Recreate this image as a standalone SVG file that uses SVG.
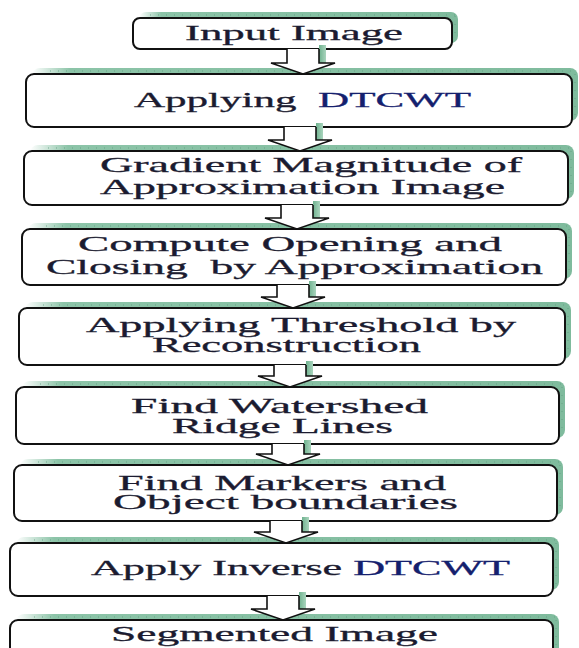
<svg xmlns="http://www.w3.org/2000/svg" width="579" height="648" viewBox="0 0 579 648">
  <defs>
    <linearGradient id="shade" x1="0" y1="0" x2="1" y2="0">
      <stop offset="0" stop-color="#8cc4a8" stop-opacity="0"/>
      <stop offset="0.07" stop-color="#8cc4a8" stop-opacity="1"/>
      <stop offset="1" stop-color="#7fbb9d"/>
    </linearGradient>
    <linearGradient id="arrowShade" x1="0" y1="0" x2="1" y2="0">
      <stop offset="0" stop-color="#6fb28f"/>
      <stop offset="1" stop-color="#a9d4bd"/>
    </linearGradient>
  </defs>
  <style>
    .shadow { fill: url(#shade); }
    .ticks { fill: none; stroke: #5f9f80; stroke-width: 1; stroke-dasharray: 1 7; opacity: 0.8; }
    .box { fill: #ffffff; stroke: #111111; stroke-width: 2; }
    .label { font-family: "Liberation Serif", "Times New Roman", serif; font-size: 22px; fill: #1b1b30; stroke: #1b1b30; stroke-width: 0.3; white-space: pre; }
    .acr { fill: #14206e; stroke: #14206e; }
    .arrow { fill: #ffffff; stroke: #111111; stroke-width: 1.6; stroke-linejoin: miter; }
    .arrow-shadow { fill: url(#arrowShade); }
  </style>

  <rect width="579" height="648" fill="#ffffff"/>

  <!-- Process steps -->
  <g id="input-image">
    <rect class="shadow" x="139" y="12" width="319" height="31" rx="7"/>
    <path class="ticks" d="M150 15 H456 M455 16 V40"/>
    <rect class="box" x="133" y="18" width="319" height="31" rx="7"/>
    <text class="label" x="185" y="40" textLength="218" lengthAdjust="spacingAndGlyphs">Input Image</text>
  </g>

  <g id="apply-dtcwt">
    <rect class="shadow" x="32" y="68" width="546" height="53" rx="8"/>
    <path class="ticks" d="M50 71 H574 M575 74 V118"/>
    <rect class="box" x="26" y="74" width="546" height="53" rx="8"/>
    <text class="label" x="134" y="107" textLength="337" lengthAdjust="spacingAndGlyphs" xml:space="preserve">Applying  <tspan class="acr">DTCWT</tspan></text>
  </g>

  <g id="gradient-magnitude">
    <rect class="shadow" x="30" y="145" width="544" height="54" rx="8"/>
    <path class="ticks" d="M48 148 H570 M571 151 V196"/>
    <rect class="box" x="24" y="151" width="544" height="54" rx="8"/>
    <text class="label" x="100" y="172" textLength="422" lengthAdjust="spacingAndGlyphs">Gradient Magnitude of</text>
    <text class="label" x="100" y="194" textLength="405" lengthAdjust="spacingAndGlyphs">Approximation Image</text>
  </g>

  <g id="opening-closing">
    <rect class="shadow" x="28" y="223" width="544" height="56" rx="8"/>
    <path class="ticks" d="M46 226 H568 M569 229 V276"/>
    <rect class="box" x="22" y="229" width="544" height="56" rx="8"/>
    <text class="label" x="78" y="251" textLength="424" lengthAdjust="spacingAndGlyphs">Compute Opening and</text>
    <text class="label" x="46" y="274" textLength="497" lengthAdjust="spacingAndGlyphs" xml:space="preserve">Closing  by Approximation</text>
  </g>

  <g id="threshold-reconstruction">
    <rect class="shadow" x="25" y="302" width="546" height="57" rx="8"/>
    <path class="ticks" d="M43 305 H567 M568 308 V356"/>
    <rect class="box" x="19" y="308" width="546" height="57" rx="8"/>
    <text class="label" x="86" y="332" textLength="430" lengthAdjust="spacingAndGlyphs">Applying Threshold by</text>
    <text class="label" x="152" y="352" textLength="269" lengthAdjust="spacingAndGlyphs">Reconstruction</text>
  </g>

  <g id="watershed-ridges">
    <rect class="shadow" x="22" y="381" width="543" height="57" rx="8"/>
    <path class="ticks" d="M40 384 H561 M562 387 V435"/>
    <rect class="box" x="16" y="387" width="543" height="57" rx="8"/>
    <text class="label" x="131" y="413" textLength="297" lengthAdjust="spacingAndGlyphs">Find Watershed</text>
    <text class="label" x="172" y="433" textLength="221" lengthAdjust="spacingAndGlyphs">Ridge Lines</text>
  </g>

  <g id="markers-boundaries">
    <rect class="shadow" x="20" y="459" width="543" height="56" rx="8"/>
    <path class="ticks" d="M38 462 H559 M560 465 V512"/>
    <rect class="box" x="14" y="465" width="543" height="56" rx="8"/>
    <text class="label" x="118" y="490" textLength="328" lengthAdjust="spacingAndGlyphs">Find Markers and</text>
    <text class="label" x="113" y="509" textLength="345" lengthAdjust="spacingAndGlyphs">Object boundaries</text>
  </g>

  <g id="inverse-dtcwt">
    <rect class="shadow" x="16" y="537" width="543" height="53" rx="8"/>
    <path class="ticks" d="M34 540 H555 M556 543 V587"/>
    <rect class="box" x="10" y="543" width="543" height="53" rx="8"/>
    <text class="label" x="91" y="575" textLength="419" lengthAdjust="spacingAndGlyphs">Apply Inverse <tspan class="acr">DTCWT</tspan></text>
  </g>

  <g id="segmented-image">
    <rect class="shadow" x="16" y="614" width="543" height="50" rx="8"/>
    <path class="ticks" d="M34 617 H555 M556 620 V648"/>
    <rect class="box" x="10" y="620" width="543" height="50" rx="8"/>
    <text class="label" x="111" y="641" textLength="327" lengthAdjust="spacingAndGlyphs">Segmented Image</text>
  </g>

  <!-- Block arrows between steps -->
  <g id="connectors">
    <rect class="arrow-shadow" x="319" y="45" width="7" height="18"/>
    <path class="arrow" d="M287 49 V63 H271 L303 74 L335 63 H319 V49"/>

    <rect class="arrow-shadow" x="316" y="123" width="7" height="17"/>
    <path class="arrow" d="M284 127 V140 H268 L300 151 L332 140 H316 V127"/>

    <rect class="arrow-shadow" x="313" y="201" width="7" height="17"/>
    <path class="arrow" d="M281 205 V218 H265 L297 229 L329 218 H313 V205"/>

    <rect class="arrow-shadow" x="309" y="281" width="7" height="16"/>
    <path class="arrow" d="M277 285 V297 H261 L293 308 L325 297 H309 V285"/>

    <rect class="arrow-shadow" x="306" y="361" width="7" height="16"/>
    <path class="arrow" d="M274 365 V376 H258 L290 387 L322 376 H306 V365"/>

    <rect class="arrow-shadow" x="304" y="440" width="7" height="14"/>
    <path class="arrow" d="M272 444 V454 H256 L288 465 L320 454 H304 V444"/>

    <rect class="arrow-shadow" x="302" y="517" width="7" height="15"/>
    <path class="arrow" d="M270 521 V532 H254 L286 543 L318 532 H302 V521"/>

    <rect class="arrow-shadow" x="299" y="592" width="7" height="17"/>
    <path class="arrow" d="M267 596 V609 H251 L283 620 L315 609 H299 V596"/>
  </g>
</svg>
